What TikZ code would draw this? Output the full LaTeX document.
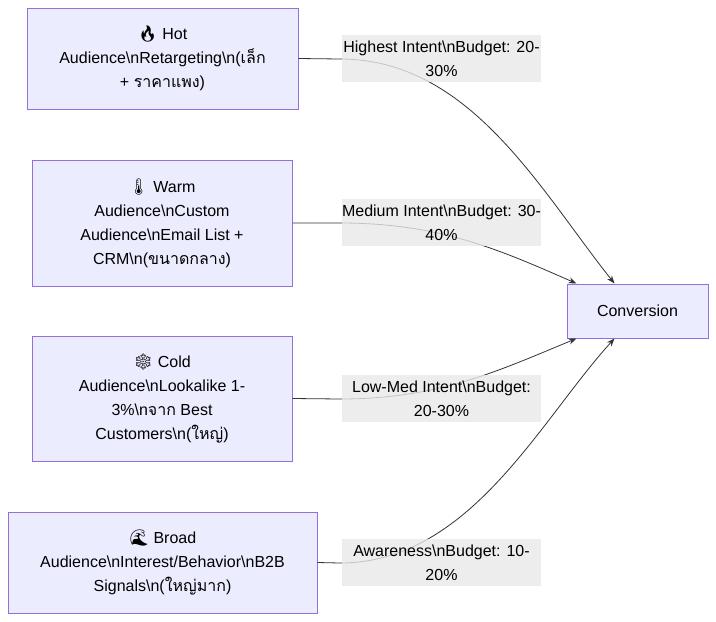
\documentclass[tikz,border=0pt]{standalone}
\usepackage{fontspec}
\setmainfont{Liberation Sans}
\newfontfamily\thf[Script=Thai]{Loma}
\newfontfamily\emo{Noto Emoji}
\usetikzlibrary{calc,arrows.meta}
\newcommand{\bn}{\textbackslash n}
\newcommand{\thai}[1]{{\thf #1}}
\definecolor{nfill}{HTML}{ECECFF}
\definecolor{nline}{HTML}{9370DB}
\definecolor{lbl}{HTML}{E8E8E8}
\definecolor{edge}{HTML}{333333}
\begin{document}
\begin{tikzpicture}[x=1pt,y=-1pt,
  box/.style={draw=nline,fill=nfill,line width=1pt,align=center,inner sep=0pt,font=\fontsize{16}{24}\selectfont},
  lab/.style={fill=lbl,fill opacity=0.8,text opacity=1,align=center,inner sep=0pt,minimum width=199pt,minimum height=47pt,font=\fontsize{16}{24}\selectfont},
  conn/.style={draw=edge,line width=0.8pt,-{Stealth[length=8pt,width=6pt]}}]
\useasboundingbox (0,0) rectangle (716,622);
\node[box,minimum width=271pt,minimum height=101pt] (hot) at (162.5,58.5) {{\emo 🔥} Hot\\Audience\bn Retargeting\bn(\thai{เล็ก}\\+ \thai{ราคาแพง})};
\node[box,minimum width=260pt,minimum height=126pt] (warm) at (162,223) {{\emo 🌡️} Warm\\Audience\bn Custom\\Audience\bn Email List +\\CRM\bn(\thai{ขนาดกลาง})};
\node[box,minimum width=260pt,minimum height=125pt] (cold) at (162,398.5) {{\emo ❄️} Cold\\Audience\bn Lookalike 1-\\3\%\bn\thai{จาก} Best\\Customers\bn(\thai{ใหญ่})};
\node[box,minimum width=309pt,minimum height=101pt] (broad) at (162.5,562.5) {{\emo 🌊} Broad\\Audience\bn Interest/Behavior\bn B2B\\Signals\bn(\thai{ใหญ่มาก})};
\node[box,minimum width=141pt,minimum height=54pt] (conv) at (637.5,311) {Conversion};
\coordinate (c1) at ($(conv.north west)+(48,0)$);
\coordinate (c2) at ($(conv.north west)+(10,0)$);
\coordinate (c3) at ($(conv.south west)+(10,0)$);
\coordinate (c4) at ($(conv.south west)+(48,0)$);
\draw[conn] (hot.east) -- (340,59) .. controls (470,59) and (540,190) .. (c1);
\draw[conn] (warm.east) -- (340,223) .. controls (440,223) and (500,250) .. (c2);
\draw[conn] (cold.east) -- (340,399) .. controls (440,399) and (500,370) .. (c3);
\draw[conn] (broad.east) -- (340,563) .. controls (470,563) and (540,420) .. (c4);
\node[lab] (l1) at (441.5,58.5) {Highest Intent\bn Budget: 20-\\30\%};
\node[lab] (l2) at (441.5,222.5) {Medium Intent\bn Budget: 30-\\40\%};
\node[lab] (l3) at (441.5,398.5) {Low-Med Intent\bn Budget:\\20-30\%};
\node[lab] (l4) at (441.5,562.5) {Awareness\bn Budget: 10-\\20\%};
\end{tikzpicture}
\end{document}
